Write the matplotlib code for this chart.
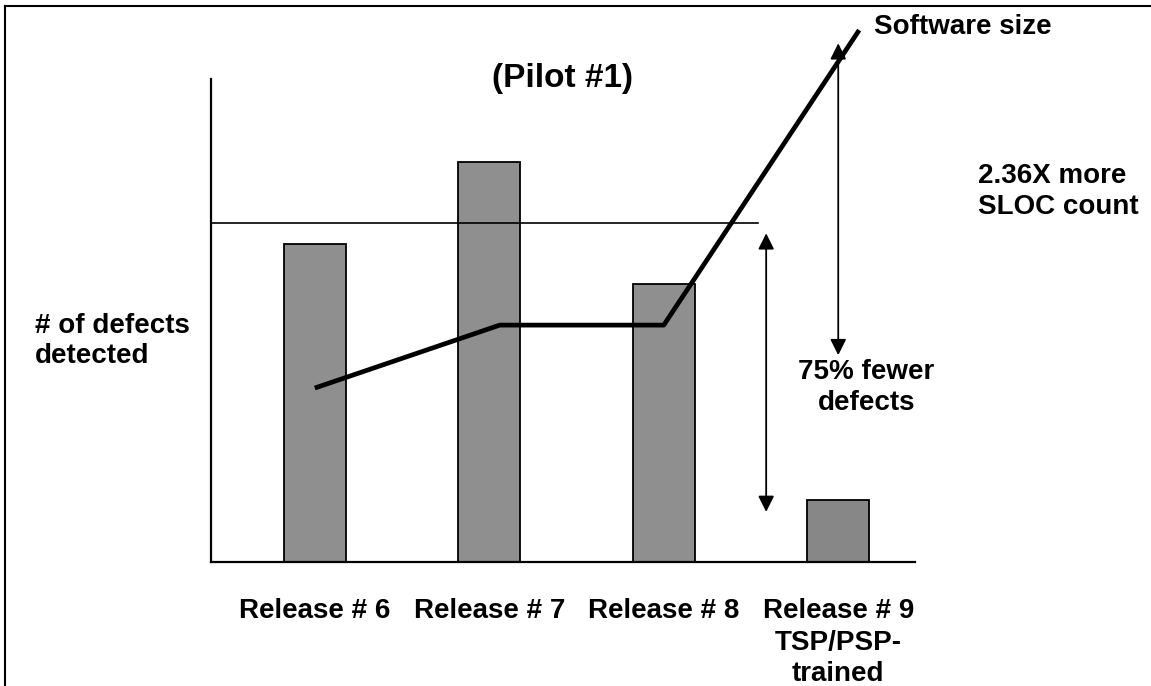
import matplotlib.pyplot as plt
from matplotlib.lines import Line2D

plt.rcParams['font.family'] = ['Liberation Sans', 'DejaVu Sans']
plt.rcParams['font.weight'] = 'bold'

# data
releases = ['Release # 6', 'Release # 7', 'Release # 8', 'Release # 9\nTSP/PSP-\ntrained']
defects = [79.3, 99.8, 69.3, 15.5]
bar_colors = ['#8f8f8f', '#8f8f8f', '#8f8f8f', '#878787']
ref_level = 84.5
size_x = [0, 1.06, 2.0, 3.12]
size_y = [43.4, 59.1, 59.1, 132.7]

fs = 20

fig = plt.figure(figsize=(11.51, 6.86), dpi=100)
ax = fig.add_axes([211/1151, 1-562/686, (915-211)/1151, (562-79)/686])

x = list(range(len(releases)))
ax.bar(x, defects, width=0.355, color=bar_colors, edgecolor='black', linewidth=1.3, zorder=2)
ax.set_xlim(-0.595, 3.44)
ax.set_ylim(0, 120.5)

# reference line at release 7 level
ax.plot([-0.595, 2.54], [ref_level, ref_level], color='black', lw=1.2, zorder=3, clip_on=False)

# software size line
ax.plot(size_x, size_y, color='black', lw=3.4, zorder=4, clip_on=False, solid_capstyle='butt')

ax.set_xticks(x)
ax.set_xticklabels(releases, fontsize=fs, fontweight='bold', linespacing=1.27)
ax.tick_params(axis='x', length=0, pad=26)
ax.set_yticks([])
for s in ['top', 'right']:
    ax.spines[s].set_visible(False)
for s in ['left', 'bottom']:
    ax.spines[s].set_linewidth(1.6)

fig.text(563/1151, 1-78/686, '(Pilot #1)', fontsize=24, fontweight='bold', ha='center', va='center')

arrow = dict(arrowstyle='<|-|>', color='black', lw=1.3, mutation_scale=24, shrinkA=0, shrinkB=0)
ax.annotate('', xy=(3.0, 129.4), xytext=(3.0, 51.6), arrowprops=arrow, annotation_clip=False)
ax.annotate('', xy=(2.587, 82.0), xytext=(2.587, 12.5), arrowprops=arrow, annotation_clip=False)

ax.text(3.205, 133.5, 'Software size', fontsize=fs, fontweight='bold', va='center', ha='left', clip_on=False)
ax.text(3.80, 92.5, '2.36X more\nSLOC count', fontsize=fs, fontweight='bold', va='center', ha='left',
        linespacing=1.27, clip_on=False)
ax.text(3.16, 43.5, '75% fewer\ndefects', fontsize=fs, fontweight='bold', va='center', ha='center',
        linespacing=1.27, clip_on=False)
fig.text(35/1151, 1-341/686, '# of defects\ndetected', fontsize=fs, fontweight='bold', va='center', ha='left',
         linespacing=1.2)

# outer frame (left and top edges)
fig.add_artist(Line2D([5/1151, 5/1151], [0, 1-6/686], color='black', lw=1.5, transform=fig.transFigure))
fig.add_artist(Line2D([5/1151, 1], [1-6/686, 1-6/686], color='black', lw=1.5, transform=fig.transFigure))

fig.savefig('out.png', dpi=100)
